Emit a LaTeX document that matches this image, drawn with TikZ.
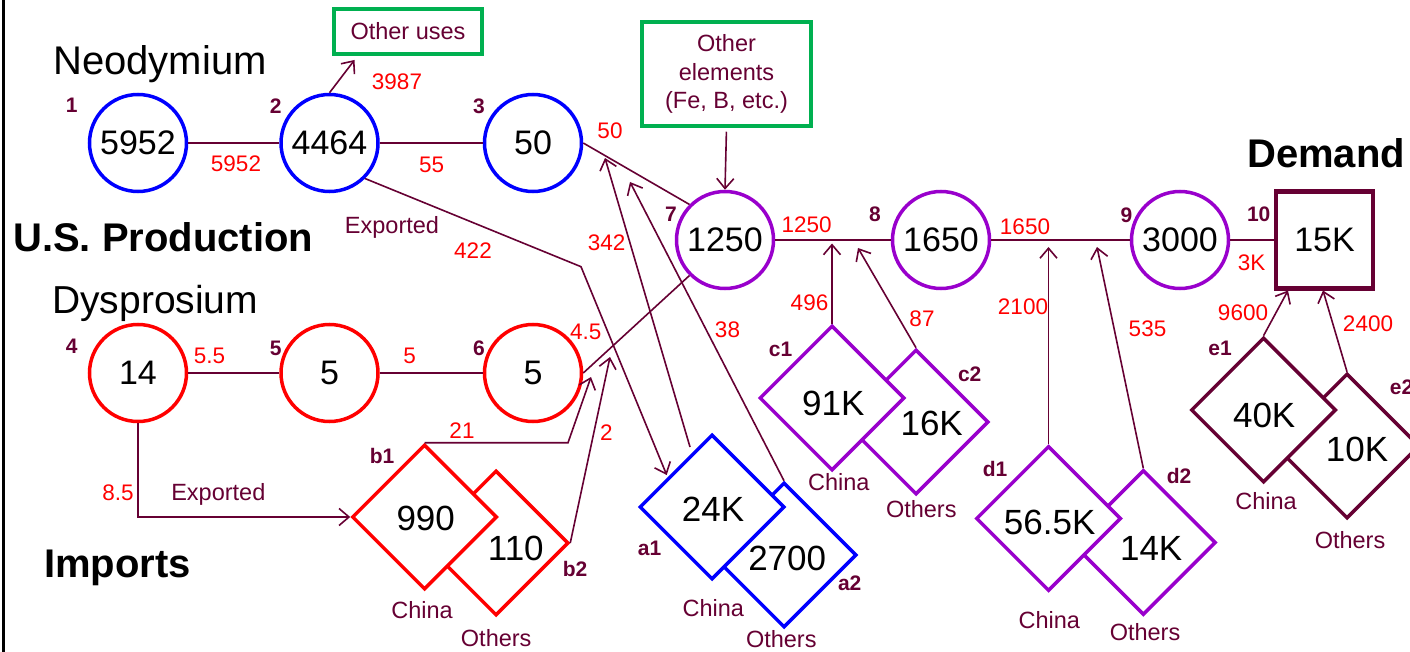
\documentclass[tikz,border=0pt]{standalone}
\usepackage{fontspec}
\setmainfont{Liberation Sans}
\usetikzlibrary{shapes.geometric,arrows.meta,calc}
\definecolor{mar}{RGB}{102,0,51}
\definecolor{pblue}{RGB}{0,0,255}
\definecolor{pred}{RGB}{255,0,0}
\definecolor{ppurple}{RGB}{153,0,204}
\definecolor{pgreen}{RGB}{0,176,80}
\tikzset{
  circ/.style={circle, minimum size=97pt, inner sep=0pt, line width=3.5pt, fill=white, font=\fontsize{34}{34}\selectfont},
  sqbox/.style={rectangle, minimum size=97pt, inner sep=0pt, line width=4.5pt, draw=mar, fill=white, font=\fontsize{34}{34}\selectfont},
  dia/.style={diamond, minimum width=145pt, minimum height=145pt, inner sep=0pt, line width=3.5pt, fill=white},
  dnum/.style={anchor=base, inner sep=0pt, font=\fontsize{35}{35}\selectfont},
  idx/.style={anchor=base, inner sep=0pt, text=mar, font=\fontsize{21}{21}\selectfont\bfseries},
  val/.style={anchor=base, inner sep=0pt, text=pred, font=\fontsize{22.5}{22.5}\selectfont},
  word/.style={anchor=base, inner sep=0pt, text=mar, font=\fontsize{23.5}{23.5}\selectfont},
  ttl/.style={anchor=base west, inner sep=0pt, font=\fontsize{40}{40}\selectfont},
  ttlb/.style={anchor=base west, inner sep=0pt, font=\fontsize{40}{40}\selectfont\bfseries},
  flow/.style={draw=mar, line width=1.6pt},
  gbox/.style={draw=pgreen, line width=3.5pt, inner sep=0pt, text=mar, align=center},
}
\begin{document}
\begin{tikzpicture}[x=1pt,y=-1pt,>={Straight Barb[length=10pt,width=17pt]}]
\useasboundingbox (0,0) rectangle (1410,652);
\fill[white] (0,0) rectangle (1410,652);
\draw[line width=3pt] (3.3,0) -- (3.3,652);

% titles
\node[ttl] (tNeo) at (53,75) {Neodymium};
\node[ttlb] (tUS) at (13,252) {U.S. Production};
\node[ttl,font=\fontsize{39}{39}\selectfont] (tDy) at (52,313) {Dysprosium};
\node[ttlb] (tImp) at (44,577) {Imports};
\node[ttlb] (tDem) at (1247,168) {Demand};

% green boxes
\node[gbox, minimum width=148pt, minimum height=45pt, font=\fontsize{23.5}{23.5}\selectfont] (ou) at (408,31.5) {Other uses};
\node[gbox, minimum width=169pt, minimum height=104pt, font=\fontsize{23.5}{28.3}\selectfont] (oe) at (726.5,74) {Other\\elements\\(Fe, B, etc.)};

% circles
\node[circ, draw=pblue] (n1) at (138,143) {5952};
\node[circ, draw=pblue] (n2) at (329.5,143) {4464};
\node[circ, draw=pblue] (n3) at (533,143) {50};
\node[circ, draw=pred] (n4) at (138,373) {14};
\node[circ, draw=pred] (n5) at (329.5,373) {5};
\node[circ, draw=pred] (n6) at (533,373) {5};
\node[circ, draw=ppurple] (n7) at (725,240) {1250};
\node[circ, draw=ppurple] (n8) at (941,240) {1650};
\node[circ, draw=ppurple] (n9) at (1180,240) {3000};
\node[sqbox] (n10) at (1324.5,240) {15K};

% diamonds (second ones behind)
\node[dia, draw=pred] (b2) at (496,543) {};
\node[dia, draw=pred] (b1) at (424.5,517) {};
\node[dia, draw=pblue] (a2) at (784,555) {};
\node[dia, draw=pblue] (a1) at (712,507) {};
\node[dia, draw=ppurple] (c2) at (916,422) {};
\node[dia, draw=ppurple] (c1) at (832,398) {};
\node[dia, draw=ppurple] (d2) at (1143.3,542.5) {};
\node[dia, draw=ppurple] (d1) at (1048.5,518.5) {};
\node[dia, draw=mar] (e2) at (1347,446) {};
\node[dia, draw=mar] (e1) at (1263.5,410) {};

\node[dnum] (vb1) at (425.7,530.7) {990};
\node[dnum] (vb2) at (515.8,560) {110};
\node[dnum] (va1) at (713,521) {24K};
\node[dnum] (va2) at (787.2,570) {2700};
\node[dnum] (vc1) at (833.3,415) {91K};
\node[dnum] (vc2) at (931.7,435) {16K};
\node[dnum] (vd1) at (1049.7,534) {56.5K};
\node[dnum] (vd2) at (1151.2,560.7) {14K};
\node[dnum] (ve1) at (1264.2,427.3) {40K};
\node[dnum] (ve2) at (1357,461.7) {10K};

% free ends
\coordinate (tOU) at (354.5,60);
\coordinate (bend422) at (581,266.7);
\coordinate (tip422) at (666.7,475);
\coordinate (t342) at (690,447);
\coordinate (tip342) at (605,158);
\coordinate (tip38) at (630,182);
\coordinate (k21) at (568,443);
\coordinate (tip21) at (591,377);
\coordinate (tip2) at (610,357);
\coordinate (tip496) at (832,243.5);
\coordinate (tip87) at (858,248);
\coordinate (tip2100) at (1048.5,247);
\coordinate (tip535) at (1097,247);
\coordinate (tip9600) at (1288,290.5);
\coordinate (tip2400) at (1323,290.5);

% connectors
\draw[flow] (n1) -- (n2);
\draw[flow] (n2) -- (n3);
\draw[flow] (n3.east) -- (n7.135);
\draw[flow] (n4) -- (n5);
\draw[flow] (n5) -- (n6);
\draw[flow] (n6.east) -- (n7.225);
\draw[flow] (n7) -- (n8);
\draw[flow] (n8) -- (n9);
\draw[flow] (n9) -- (n10);
\draw[flow,->] (n2.north) -- (tOU);
\draw[flow,->,shorten <=4pt] (oe.south) -- (n7.north);
\draw[flow,->] (n2.-45) -- (bend422) -- (tip422);
\draw[flow,->] (t342) -- (tip342);
\draw[flow,->] (a2.north) -- (tip38);
\draw[flow,->] (b1.north) -- (b1.north -| k21) -- (tip21);
\draw[flow,->] (b2.east) -- (tip2);
\draw[flow,->] (n4.south) |- (b1.west);
\draw[flow,->] (c1.north) -- (tip496);
\draw[flow,->] (c2.north) -- (tip87);
\draw[flow,->] (d1.north) -- (tip2100);
\draw[flow,->] (d2.north) -- (tip535);
\draw[flow,->] (e1.north) -- (tip9600);
\draw[flow,->] (e2.north) -- (tip2400);

% index labels
\node[idx] (i1) at (71.7,112.3) {1};
\node[idx] (i2) at (275.8,113.3) {2};
\node[idx] (i3) at (479,113.3) {3};
\node[idx] (i4) at (71.6,353.3) {4};
\node[idx] (i5) at (275.6,355) {5};
\node[idx] (i6) at (479,355) {6};
\node[idx] (i7) at (671,221.7) {7};
\node[idx] (i8) at (875,221.7) {8};
\node[idx] (i9) at (1126.5,222.7) {9};
\node[idx] (i10) at (1258.7,222) {10};
\node[idx] (ib1) at (382,463.3) {b1};
\node[idx] (ib2) at (575,576) {b2};
\node[idx] (ia1) at (649.5,555) {a1};
\node[idx] (ia2) at (849.7,590) {a2};
\node[idx] (ic1) at (780.5,356) {c1};
\node[idx] (ic2) at (969.7,381) {c2};
\node[idx] (id1) at (995,476) {d1};
\node[idx] (id2) at (1179,483.3) {d2};
\node[idx] (ie1) at (1220,355) {e1};
\node[idx] (ie2) at (1401.5,394.3) {e2};

% flow values
\node[val] (l5952) at (236,172) {5952};
\node[val] (l55) at (431.7,173) {55};
\node[val] (l3987) at (397,90) {3987};
\node[val] (l50) at (610,138.3) {50};
\node[val] (l422) at (473,258.3) {422};
\node[val] (l342) at (606.7,250.7) {342};
\node[val] (l1250) at (806.7,232.3) {1250};
\node[val] (l496) at (809.5,310) {496};
\node[val] (l38) at (727.5,337.3) {38};
\node[val] (l87) at (922,326) {87};
\node[val] (l1650) at (1025,234.3) {1650};
\node[val] (l2100) at (1023,314.3) {2100};
\node[val] (l535) at (1147.5,336.7) {535};
\node[val] (l3K) at (1251.5,271) {3K};
\node[val] (l9600) at (1243,320.7) {9600};
\node[val] (l2400) at (1368,331.7) {2400};
\node[val] (l55b) at (209.5,363.3) {5.5};
\node[val] (l5) at (409.7,363.3) {5};
\node[val] (l45) at (585.8,339.3) {4.5};
\node[val] (l21) at (462,438.3) {21};
\node[val] (l2) at (606.3,440) {2};
\node[val] (l85) at (118,500) {8.5};

% words
\node[word] (wex1) at (392,233.3) {Exported};
\node[word] (wex2) at (218.3,500) {Exported};
\node[word] (wbc) at (422,618.3) {China};
\node[word] (wbo) at (496.2,646.7) {Others};
\node[word] (wac) at (713.3,616) {China};
\node[word] (wao) at (781.3,647) {Others};
\node[word] (wcc) at (838.8,490.7) {China};
\node[word] (wco) at (921.3,517.3) {Others};
\node[word] (wdc) at (1049.3,628.3) {China};
\node[word] (wdo) at (1145,640.7) {Others};
\node[word] (wec) at (1266,509.3) {China};
\node[word] (weo) at (1350,548.3) {Others};
\end{tikzpicture}
\end{document}
